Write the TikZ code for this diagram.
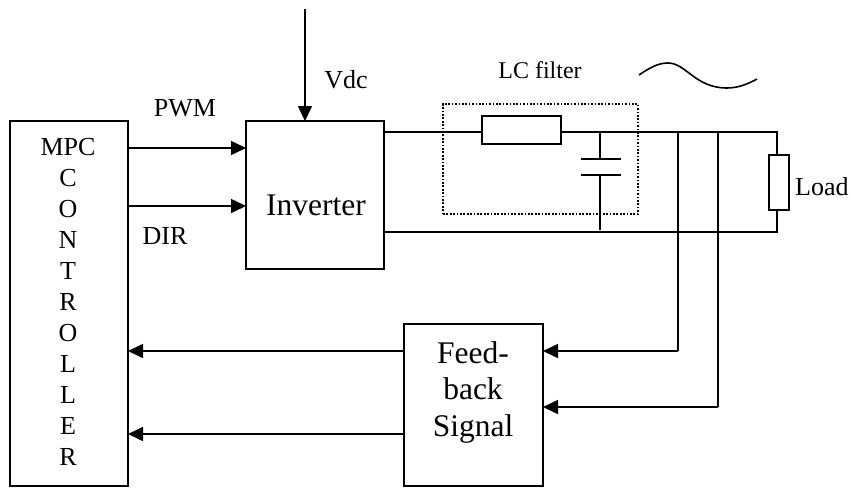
\documentclass[tikz,border=0pt]{standalone}
\usepackage{fontspec}
\setmainfont{Liberation Serif}
\usetikzlibrary{arrows.meta,calc}
\tikzset{
  x=1pt,y=-1pt,
  boxed/.style={draw,line width=1.6pt,inner sep=0pt,outer sep=0pt,anchor=north west},
  wire/.style={line width=1.6pt},
  sig/.style={line width=1.6pt,-{Triangle[length=15pt,width=14pt]}},
  small/.style={inner sep=0pt,font=\fontsize{26}{31}\selectfont,align=center},
  big/.style={inner sep=0pt,font=\fontsize{31.5}{36.5}\selectfont,align=center},
}
\begin{document}
\begin{tikzpicture}
\useasboundingbox (0,0) rectangle (851,488);
\node[boxed,minimum width=118pt,minimum height=365pt] (ctrl) at (10,121) {};
\node[boxed,minimum width=138pt,minimum height=148pt] (inv) at (246,121) {};
\node[boxed,minimum width=139pt,minimum height=162pt] (fb) at (404,324) {};
\node[boxed,minimum width=79pt,minimum height=28pt] (res) at (482,116) {};
\node[boxed,minimum width=20pt,minimum height=55pt] (load) at (769,155) {};
\node[draw,line width=1.5pt,dash pattern=on 1.7pt off 1.7pt,inner sep=0pt,outer sep=0pt,anchor=north west,minimum width=195pt,minimum height=110pt] (lc) at (443,104) {};

\node[small] (tctrl) at (68,302) {MPC\\C\\O\\N\\T\\R\\O\\L\\L\\E\\R};
\node[big] (tinv) at (316,205) {Inverter};
\node[big] (tfb) at (473,392) {Feed-\\back\\Signal};
\node[small] (tpwm) at (185,108) {PWM};
\node[small] (tdir) at (165,236) {DIR};
\node[small] (tvdc) at (346,80) {Vdc};
\node[small,font=\fontsize{24}{29}\selectfont] (tlc) at (540,70) {LC filter};
\node[small,anchor=west] (tload) at (795,187) {Load};

\coordinate (vtop) at (305,9);
\draw[sig] (vtop) -- (vtop |- inv.north);
\draw[sig] (ctrl.east |- 0,148) -- (inv.west |- 0,148);
\draw[sig] (ctrl.east |- 0,206) -- (inv.west |- 0,206);

\coordinate (tr) at (777,132);
\coordinate (br) at (777,232);
\coordinate (c1) at (600,159);
\coordinate (c2) at (600,175);
\coordinate (cb) at (600,230);
\draw[wire] (inv.east |- tr) -- (res.west |- tr);
\draw[wire] (res.east |- tr) -- (tr) -- (load.north -| tr);
\draw[wire] (load.south -| br) -- (br) -- (inv.east |- br);
\draw[wire] (c1 |- tr) -- (c1);
\draw[wire] (c2) -- (cb);
\draw[wire] (581,159) -- (621,159);
\draw[wire] (581,175) -- (621,175);

\coordinate (j1) at (678,132);
\coordinate (j2) at (718,132);
\draw[wire] (j1) -- (678,351);
\draw[sig] (678,351) -- (fb.east |- 0,351);
\draw[wire] (j2) -- (718,407);
\draw[sig] (718,407) -- (fb.east |- 0,407);
\draw[sig] (fb.west |- 0,351) -- (ctrl.east |- 0,351);
\draw[sig] (fb.west |- 0,434) -- (ctrl.east |- 0,434);

\draw[wire] (639,75) .. controls (652,66) and (660,63) .. (668,63)
  .. controls (686,63) and (695,88) .. (727,88)
  .. controls (738,88) and (748,84) .. (757,79);
\end{tikzpicture}
\end{document}
